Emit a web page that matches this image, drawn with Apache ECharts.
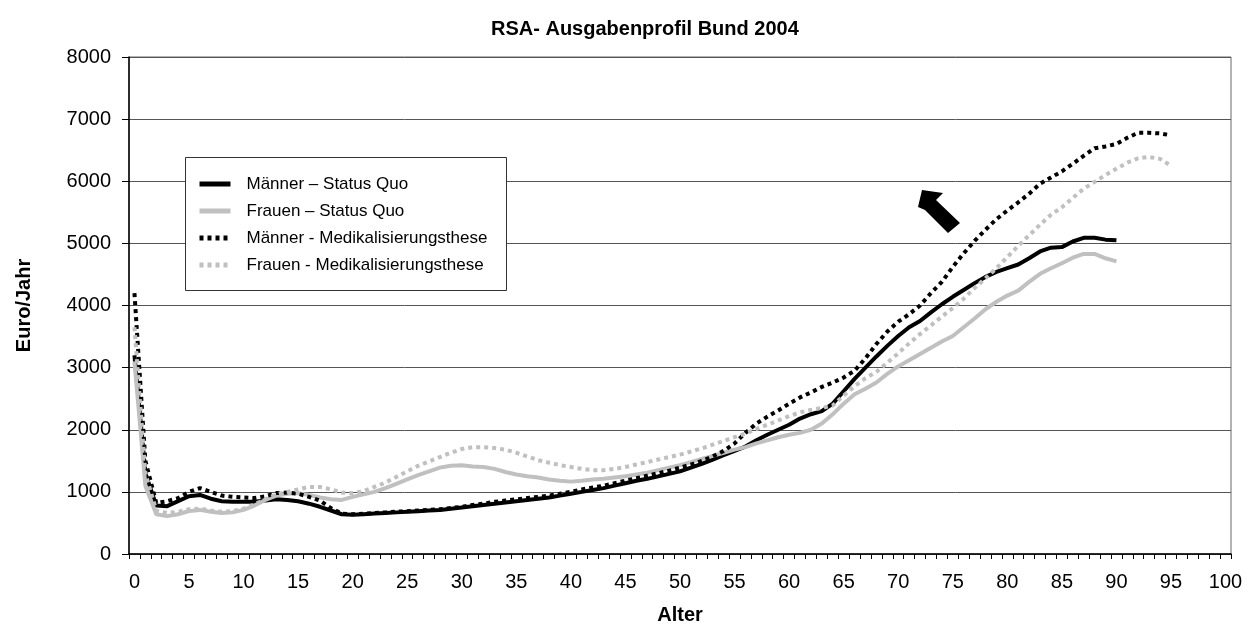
<!DOCTYPE html>
<html><head><meta charset="utf-8">
<script src="https://cdn.jsdelivr.net/npm/echarts@6/dist/echarts.min.js"></script>
<style>html,body{margin:0;padding:0;background:#fff}#c{width:1256px;height:630px}</style>
</head><body><div id="c"></div>
<script>
const chartTitle = 'RSA- Ausgabenprofil Bund 2004';
const xName = 'Alter';
const yName = 'Euro/Jahr';
const seriesNames = ['Männer – Status Quo', 'Frauen – Status Quo', 'Männer - Medikalisierungsthese', 'Frauen - Medikalisierungsthese'];
const ages = [];
for (let a = 0; a <= 100; a++) ages.push(String(a));

// ages 0..90
const maennerStatusQuo = [3200,1300,780,770,850,930,950,890,850,840,
  840,840,860,880,870,850,810,760,700,640,
  630,640,650,660,670,680,690,700,710,730,
  750,770,790,810,830,850,870,890,910,940,
  970,1000,1030,1060,1100,1140,1180,1210,1250,1290,
  1330,1390,1450,1520,1590,1660,1730,1830,1920,2000,
  2080,2180,2250,2300,2420,2620,2820,3000,3180,3350,
  3510,3650,3750,3890,4020,4140,4250,4360,4460,4540,
  4600,4660,4760,4870,4930,4940,5030,5090,5090,5060,5050];
// ages 0..90
const frauenStatusQuo = [3100,1100,640,610,640,690,710,680,660,670,
  710,780,870,940,970,980,950,910,880,870,
  920,960,1000,1060,1130,1200,1270,1330,1390,1420,
  1430,1410,1400,1370,1320,1280,1250,1230,1200,1180,
  1165,1180,1200,1210,1230,1250,1280,1310,1350,1390,
  1430,1480,1530,1580,1630,1680,1720,1780,1830,1880,
  1920,1950,2000,2100,2250,2420,2570,2660,2760,2900,
  3020,3120,3220,3320,3420,3510,3650,3790,3940,4060,
  4160,4240,4380,4510,4600,4680,4770,4830,4830,4760,4710];
// ages 0..95
const maennerMedik = [4200,1500,820,850,900,1000,1060,1000,940,920,
  910,900,930,980,990,970,920,860,740,650,
  640,650,660,670,680,690,700,710,720,740,
  760,790,810,840,860,880,900,920,940,970,
  1000,1040,1070,1100,1140,1180,1220,1260,1300,1340,
  1390,1440,1500,1570,1660,1780,1950,2100,2210,2310,
  2420,2520,2600,2690,2760,2840,2950,3150,3380,3580,
  3740,3860,4000,4200,4380,4620,4840,5040,5220,5390,
  5530,5660,5800,5960,6060,6160,6280,6410,6530,6560,
  6600,6700,6780,6780,6770,6740];
// ages 0..95
const frauenMedik = [3650,1300,700,660,680,720,730,700,680,690,
  730,800,880,960,1000,1040,1080,1080,1040,990,
  980,1010,1080,1150,1240,1330,1420,1490,1560,1630,
  1690,1720,1720,1705,1680,1630,1570,1510,1470,1430,
  1400,1370,1350,1350,1370,1400,1440,1480,1520,1560,
  1600,1650,1700,1760,1820,1880,1940,2010,2080,2150,
  2220,2280,2320,2350,2390,2550,2700,2830,2930,3080,
  3230,3390,3540,3680,3820,3960,4110,4280,4440,4600,
  4780,4960,5130,5300,5460,5580,5730,5880,5990,6100,
  6200,6300,6370,6390,6360,6250];

const FONT = '"Liberation Sans", Arial, sans-serif';
const chart = echarts.init(document.getElementById('c'), null, {renderer: 'canvas'});

function mk(name, data, color, dotted) {
  return {
    name: name, type: 'line', data: data, symbol: 'none', smooth: false,
    lineStyle: {color: color, width: 4, type: dotted ? [4, 4] : 'solid', cap: 'butt'},
    itemStyle: {color: color},
    emphasis: {disabled: true}
  };
}

chart.setOption({
  animation: false,
  backgroundColor: '#fff',
  title: {
    text: chartTitle, left: 486, top: 14,
    textStyle: {fontFamily: FONT, fontSize: 20, fontWeight: 'bold', color: '#000'}
  },
  grid: {left: 129, right: 25, top: 57, bottom: 76, show: true, borderColor: '#666', borderWidth: 1, backgroundColor: 'transparent'},
  legend: {
    orient: 'vertical', left: 192, top: 170,
    itemWidth: 31, itemHeight: 10, itemGap: 9,
    data: seriesNames,
    itemStyle: {opacity: 0},
    lineStyle: {width: 5},
    textStyle: {fontFamily: FONT, fontSize: 17, color: '#000', lineHeight: 18, padding: [0, 0, 0, 11]},
    selectedMode: false
  },
  xAxis: {
    type: 'category', data: ages, boundaryGap: true,
    name: xName, nameLocation: 'middle', nameGap: 51,
    nameTextStyle: {fontFamily: FONT, fontSize: 20, fontWeight: 'bold', color: '#000'},
    axisLine: {lineStyle: {color: '#000', width: 1.5}},
    axisTick: {show: true, interval: 0, length: 5, lineStyle: {color: '#000'}},
    axisLabel: {interval: function (i) { return i % 5 === 0; }, fontFamily: FONT, fontSize: 20, color: '#000', margin: 18},
    splitLine: {show: false}
  },
  yAxis: {
    type: 'value', min: 0, max: 8000, interval: 1000,
    name: yName, nameLocation: 'middle', nameGap: 95, nameRotate: 90,
    nameTextStyle: {fontFamily: FONT, fontSize: 20, fontWeight: 'bold', color: '#000'},
    axisLine: {show: true, lineStyle: {color: '#000', width: 1.5}},
    axisTick: {show: true, length: 7, lineStyle: {color: '#000'}},
    axisLabel: {fontFamily: FONT, fontSize: 20, color: '#000', margin: 18, formatter: function (v) { return String(v); }},
    splitLine: {show: true, lineStyle: {color: '#555', width: 1}}
  },
  graphic: [
    {type: 'rect', z: 3, shape: {x: 185.5, y: 157.5, width: 321, height: 133}, style: {fill: '#fff', stroke: '#333', lineWidth: 1}},
    {type: 'polygon', z: 10, shape: {points: [[922, 190], [943, 193], [936, 200], [960, 223], [948, 233], [925, 210], [918, 207]]}, style: {fill: '#000'}}
  ],
  series: [
    mk(seriesNames[0], maennerStatusQuo, '#000', false),
    mk(seriesNames[1], frauenStatusQuo, '#c0c0c0', false),
    mk(seriesNames[2], maennerMedik, '#000', true),
    mk(seriesNames[3], frauenMedik, '#c0c0c0', true)
  ]
});
</script>
</body></html>
